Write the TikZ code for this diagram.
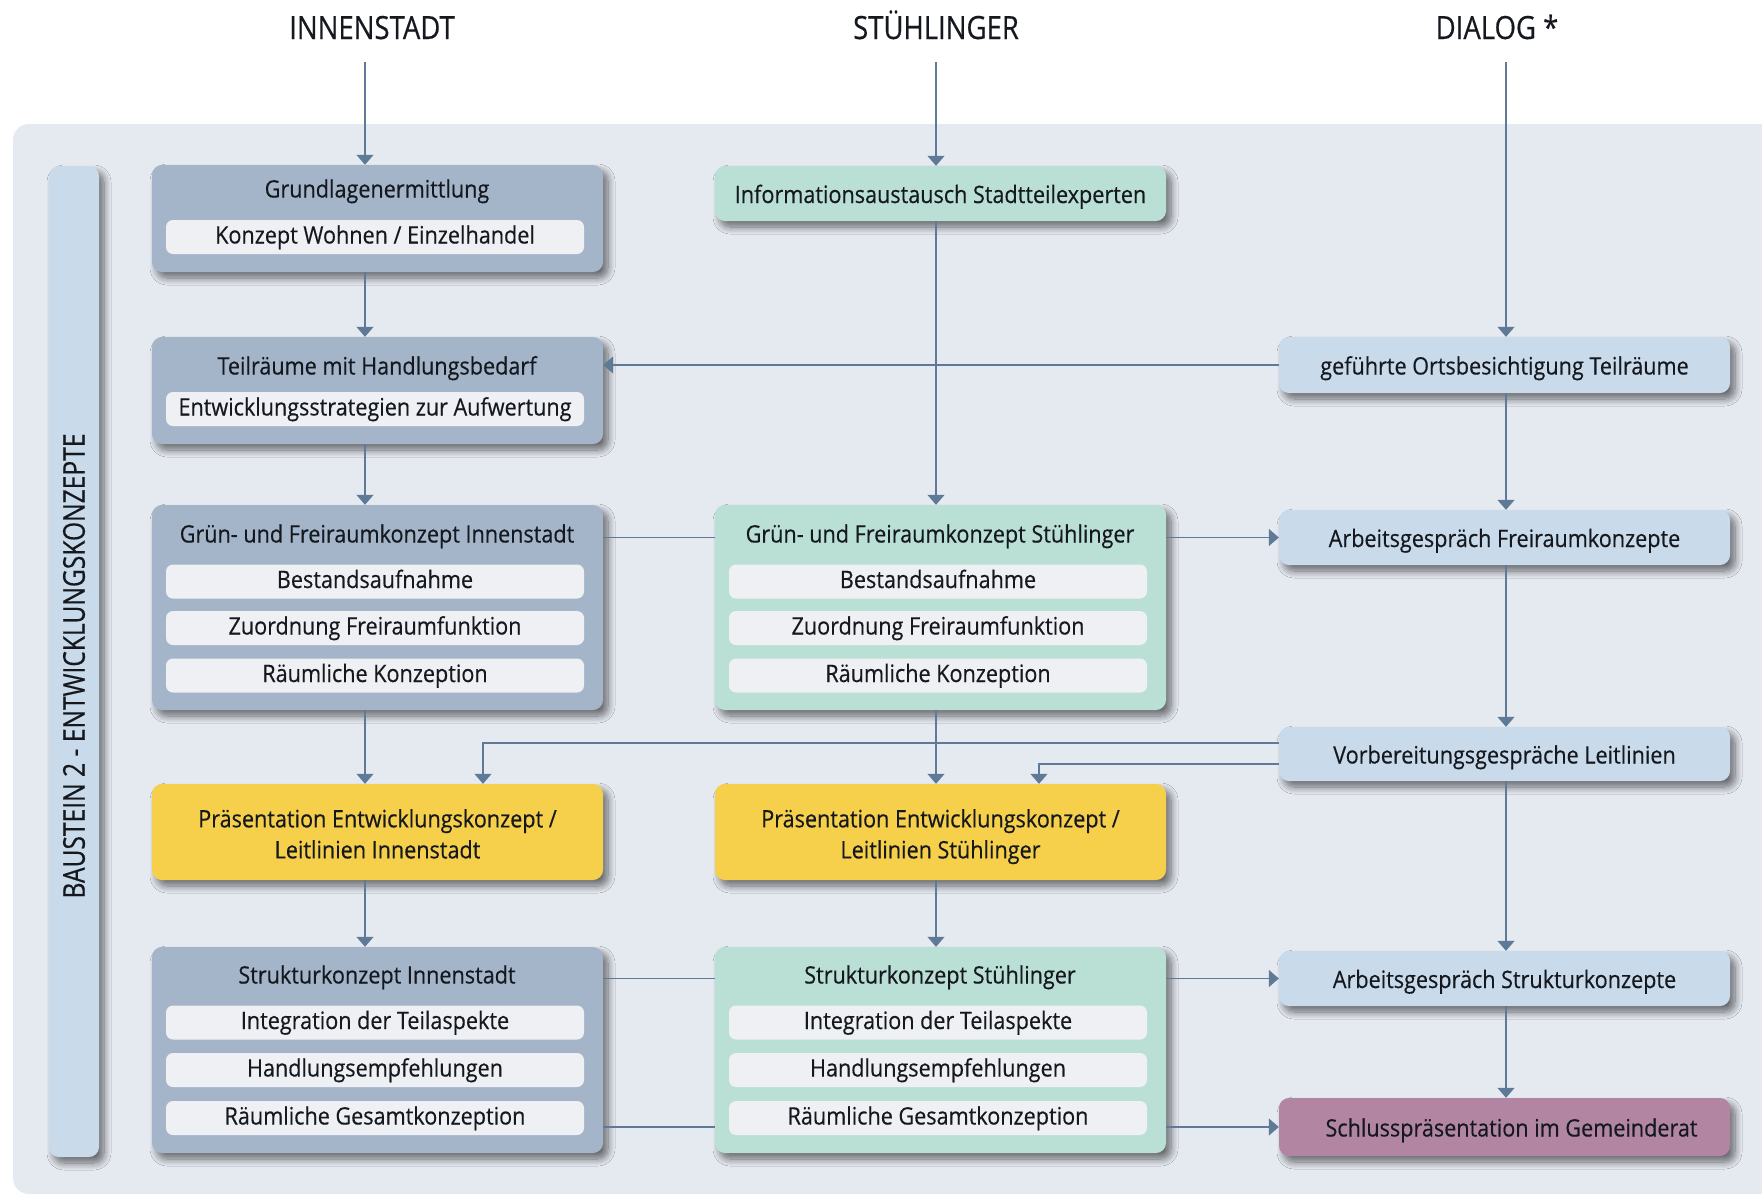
\documentclass[tikz,border=0pt]{standalone}
\usepackage{fontspec}
\setmainfont{Open Sans}[FakeStretch=0.9,FakeBold=0.4]
\newfontfamily\ttlfont{Open Sans}[FakeStretch=0.86,FakeBold=0.4]
\newfontfamily\barfont{Open Sans}[FakeStretch=0.82,FakeBold=0.4]
\usetikzlibrary{arrows.meta,shadows.blur}
\definecolor{panelc}{HTML}{E5E9F0}
\definecolor{grayb}{HTML}{A4B5C9}
\definecolor{subc}{HTML}{EEF0F4}
\definecolor{mintc}{HTML}{BADFD4}
\definecolor{lblue}{HTML}{C9DBEA}
\definecolor{yell}{HTML}{F6D04A}
\definecolor{mauve}{HTML}{B286A3}
\definecolor{linec}{HTML}{5E7A96}
\definecolor{txt}{HTML}{15191F}
\begin{document}
\begin{tikzpicture}[x=1pt,y=-1pt,
  every node/.style={text=txt},
  bf/.style={font=\fontsize{24}{31}\selectfont,text height=17pt,text depth=4pt},
  one/.style={bf,text height=23pt},
  tf/.style={font=\ttlfont\fontsize{32}{38}\selectfont,inner sep=0pt,anchor=base},
  shd/.style={blur shadow={shadow xshift=5pt,shadow yshift=-6pt,shadow blur radius=7pt,shadow blur steps=10,shadow opacity=55}},
  outer/.style={draw=none,rounded corners=10pt,minimum width=451pt,inner sep=0pt,shd},
  sub/.style={fill=subc,rounded corners=7pt,minimum width=418pt,minimum height=34pt,inner sep=0pt,bf},
  ttl/.style={bf,inner sep=0pt},
  ln/.style={draw=linec,line width=1.3pt},
  arr/.style={ln,-{Triangle[width=17pt,length=10pt]}},
]
\useasboundingbox (0,0) rectangle (1762,1197);
\fill[panelc,rounded corners=16pt] (13,124) rectangle (1800,1194);

% titles
\node[tf] (t1) at (372,39) {INNENSTADT};
\node[tf] (t2) at (936,39) {STÜHLINGER};
\node[tf] (t3) at (1497,39) {DIALOG *};

% side bar
\node[fill=lblue,rounded corners=10pt,minimum width=50pt,minimum height=991pt,inner sep=0pt,shd] (bar) at (74,661.5) {};
\node[rotate=90,font=\barfont\fontsize{30}{36}\selectfont,inner sep=0pt] (bart) at (74,666) {BAUSTEIN 2 - ENTWICKLUNGSKONZEPTE};

% column 1
\node[outer,fill=grayb,minimum height=107pt] (g1) at (377.5,218.5) {};
\node[ttl] (g1t) at (377,191) {Grundlagenermittlung};
\node[sub] (g1s) at (375,237) {Konzept Wohnen / Einzelhandel};

\node[outer,fill=grayb,minimum height=107pt] (g2) at (377.5,390.5) {};
\node[ttl] (g2t) at (377,368) {Teilräume mit Handlungsbedarf};
\node[sub] (g2s) at (375,409) {Entwicklungsstrategien zur Aufwertung};

\node[outer,fill=grayb,minimum height=205pt] (g3) at (377.5,607.5) {};
\node[ttl] (g3t) at (377,536) {Grün- und Freiraumkonzept Innenstadt};
\node[sub] (g3a) at (375,581.5) {Bestandsaufnahme};
\node[sub] (g3b) at (375,628) {Zuordnung Freiraumfunktion};
\node[sub] (g3c) at (375,675.5) {Räumliche Konzeption};

\node[outer,fill=yell,minimum height=96pt,font=\fontsize{24}{31}\selectfont,align=center] (g4) at (377.5,832) {\strut Präsentation Entwicklungskonzept /\\\strut Leitlinien Innenstadt\rule[-3.5pt]{0pt}{1pt}\\[-31pt]\rule{0pt}{0pt}};

\node[outer,fill=grayb,minimum height=206pt] (g5) at (377.5,1050) {};
\node[ttl] (g5t) at (377,977) {Strukturkonzept Innenstadt};
\node[sub] (g5a) at (375,1022.5) {Integration der Teilaspekte};
\node[sub] (g5b) at (375,1070) {Handlungsempfehlungen};
\node[sub] (g5c) at (375,1118) {Räumliche Gesamtkonzeption};

% column 2
\node[outer,fill=mintc,minimum height=55pt,one] (s1) at (940.5,193.5) {Informationsaustausch Stadtteilexperten};

\node[outer,fill=mintc,minimum height=205pt] (s3) at (940.5,607.5) {};
\node[ttl] (s3t) at (940,536) {Grün- und Freiraumkonzept Stühlinger};
\node[sub] (s3a) at (938,581.5) {Bestandsaufnahme};
\node[sub] (s3b) at (938,628) {Zuordnung Freiraumfunktion};
\node[sub] (s3c) at (938,675.5) {Räumliche Konzeption};

\node[outer,fill=yell,minimum height=96pt,font=\fontsize{24}{31}\selectfont,align=center] (s4) at (940.5,832) {\strut Präsentation Entwicklungskonzept /\\\strut Leitlinien Stühlinger\rule[-3.5pt]{0pt}{1pt}\\[-31pt]\rule{0pt}{0pt}};

\node[outer,fill=mintc,minimum height=206pt] (s5) at (940.5,1050) {};
\node[ttl] (s5t) at (940,977) {Strukturkonzept Stühlinger};
\node[sub] (s5a) at (938,1022.5) {Integration der Teilaspekte};
\node[sub] (s5b) at (938,1070) {Handlungsempfehlungen};
\node[sub] (s5c) at (938,1118) {Räumliche Gesamtkonzeption};

% column 3
\node[outer,fill=lblue,minimum height=56pt,one] (d1) at (1504.5,365) {geführte Ortsbesichtigung Teilräume};
\node[outer,fill=lblue,minimum height=55pt,one] (d2) at (1504.5,537.5) {Arbeitsgespräch Freiraumkonzepte};
\node[outer,fill=lblue,minimum height=54pt,one] (d3) at (1504.5,754) {Vorbereitungsgespräche Leitlinien};
\node[outer,fill=lblue,minimum height=55pt,one] (d4) at (1504.5,978.5) {Arbeitsgespräch Strukturkonzepte};
\node[outer,fill=mauve,minimum height=58pt,one] (d5) at (1504.5,1127) {\hspace*{14pt}Schlusspräsentation im Gemeinderat};

% connectors
\coordinate (c1) at (365,62);
\coordinate (c2) at (936,62);
\coordinate (c3) at (1506,62);
\coordinate (v1) at (483,743);
\coordinate (v2) at (1039,764);

\draw[arr] (c1) -- (c1 |- g1.north);
\draw[arr] (g1.south -| c1) -- (g2.north -| c1);
\draw[arr] (g2.south -| c1) -- (g3.north -| c1);
\draw[arr] (g3.south -| c1) -- (g4.north -| c1);
\draw[arr] (g4.south -| c1) -- (g5.north -| c1);

\draw[arr] (c2) -- (c2 |- s1.north);
\draw[arr] (s1.south -| c2) -- (s3.north -| c2);
\draw[arr] (s3.south -| c2) -- (s4.north -| c2);
\draw[arr] (s4.south -| c2) -- (s5.north -| c2);

\draw[arr] (c3) -- (c3 |- d1.north);
\draw[arr] (d1.south -| c3) -- (d2.north -| c3);
\draw[arr] (d2.south -| c3) -- (d3.north -| c3);
\draw[arr] (d3.south -| c3) -- (d4.north -| c3);
\draw[arr] (d4.south -| c3) -- (d5.north -| c3);

\draw[arr] (d1.west) -- (d1.west -| g2.east);
\draw[ln] (g3.east |- d2.west) -- (s3.west |- d2.west);
\draw[arr] (s3.east |- d2.west) -- (d2.west);
\draw[arr] (d3.west |- v1) -- (v1) -- (v1 |- g4.north);
\draw[arr] (d3.west |- v2) -- (v2) -- (v2 |- s4.north);
\draw[ln] (g5.east |- d4.west) -- (s5.west |- d4.west);
\draw[arr] (s5.east |- d4.west) -- (d4.west);
\draw[ln] (g5.east |- d5.west) -- (s5.west |- d5.west);
\draw[arr] (s5.east |- d5.west) -- (d5.west);
\end{tikzpicture}
\end{document}
